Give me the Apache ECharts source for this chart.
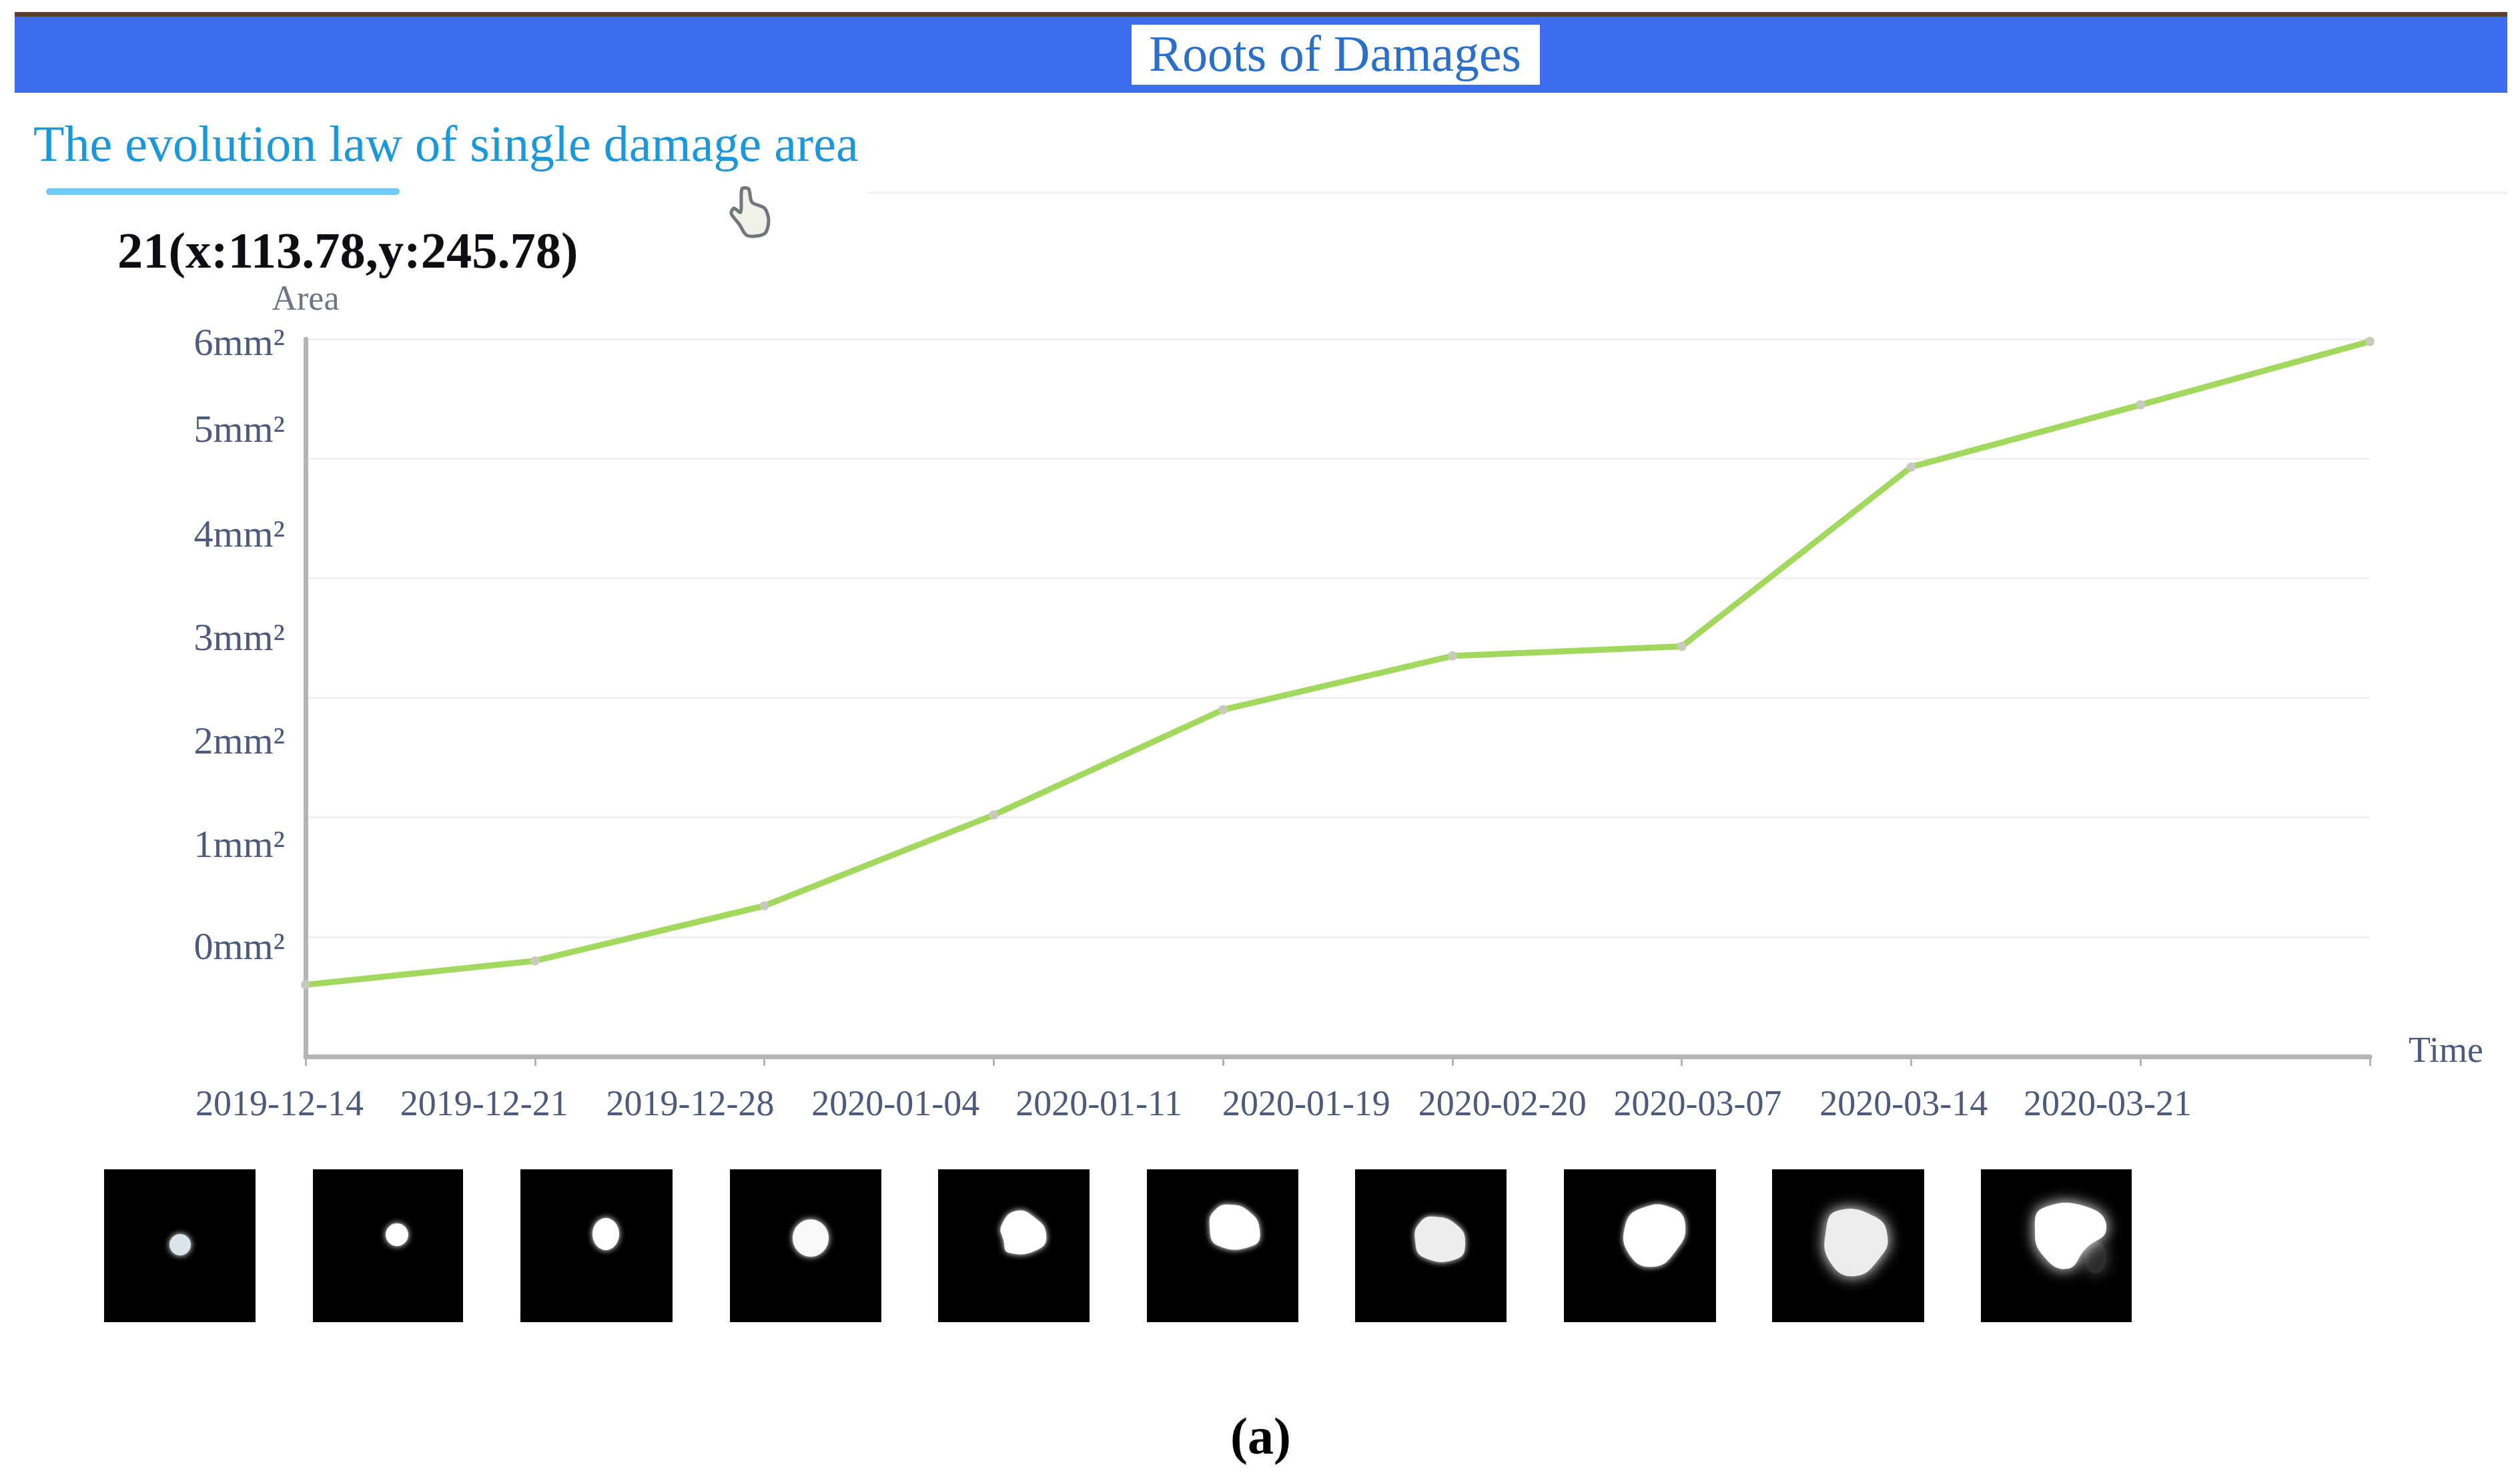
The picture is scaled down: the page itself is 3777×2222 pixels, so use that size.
<!DOCTYPE html>
<html>
<head>
<meta charset="utf-8">
<style>html,body{margin:0;padding:0;background:#fff}#c{width:3777px;height:2222px}</style>
<script src="https://cdn.jsdelivr.net/npm/echarts@6/dist/echarts.min.js"></script>
</head>
<body>
<div id="c"></div>
<script>
const dates = ['2019-12-14','2019-12-21','2019-12-28','2020-01-04','2020-01-11','2020-01-19','2020-02-20','2020-03-07','2020-03-14','2020-03-21'];
const areas = [0.60,0.80,1.26,2.02,2.90,3.35,3.43,4.93,5.45,5.98];
const yTicks = [0,1,2,3,4,5,6];

// the source picture has its tick labels displaced from their ticks
const xLabelShift = [39,76,111,147,186,219,269,320,355,393];
const yLabelShift = [161,135,111,87,63,40,-9];

const tiles = [[156,383],[469,694],[780,1008],[1094,1321],[1406,1633],[1719,1946],[2031,2258],[2344,2572],[2656,2884],[2969,3195]];
const dots = [[270,1865,16,16,'#dbe4ea'],[595,1850,17,17,'#ffffff'],[908,1849,20,24,'#ffffff'],[1215,1855,27,28,'#f8f8f8']];
const blobs = [
 [[1524,1814],[1553,1826],[1568,1849],[1558,1871],[1512,1877],[1504,1858],[1501,1836]],
 [[1844,1805],[1873,1816],[1888,1842],[1879,1866],[1825,1866],[1813,1836],[1821,1813]],
 [[2150,1823],[2184,1836],[2196,1862],[2184,1886],[2134,1884],[2121,1858],[2128,1832]],
 [[2461,1810],[2507,1810],[2526,1836],[2511,1875],[2478,1898],[2443,1881],[2436,1836]],
 [[2754,1814],[2810,1823],[2829,1852],[2818,1884],[2780,1912],[2743,1891],[2737,1842]],
 [[3062,1810],[3133,1810],[3157,1842],[3126,1871],[3099,1901],[3062,1881],[3050,1842]]
];
const blobFill = ['#ffffff','#ffffff','#eeeeec','#ffffff','#ececea','#ffffff'];
const blobBlur = [10,10,10,10,22,22];

const SERIF = '"Liberation Serif", serif';
const AXIS_TEXT = '#4d5a7c';
const AXIS_LINE = '#b2b4b6';

const xRich = {}; dates.forEach((d,i)=>{ xRich['s'+i] = {fontFamily:SERIF,fontSize:54,color:AXIS_TEXT,padding:[0,xLabelShift[i]*2,0,0]}; });
const yRich = {}; yTicks.forEach((v,i)=>{
  const s = yLabelShift[i];
  yRich['s'+i] = {fontFamily:SERIF,fontSize:58,color:AXIS_TEXT,padding: s>=0 ? [0,0,s*2,0] : [-s*2,0,0,0]};
});

const text = (x,y,t,size,color,extra) => ({type:'text',x,y,z:20,style:Object.assign({text:t,fontFamily:SERIF,fontSize:size,fill:color,verticalAlign:'middle'},extra||{})});

const graphic = [
  {type:'rect',z:10,shape:{x:22,y:18,width:3736,height:7},style:{fill:'#5e4030'}},
  {type:'rect',z:10,shape:{x:22,y:25,width:3736,height:114},style:{fill:'#3f6df0'}},
  {type:'rect',z:11,shape:{x:1696,y:37,width:612,height:90},style:{fill:'#ffffff'}},
  text(1722,86,'Roots of Damages',75.5,'#2a6fc9'),
  text(50,221,'The evolution law of single damage area',76,'#1b98dc'),
  {type:'rect',z:10,shape:{x:69,y:282,width:530,height:10,r:5},style:{fill:'#6dcbf8'}},
  {type:'line',z:5,shape:{x1:1300,y1:289,x2:3758,y2:289},style:{stroke:'#f2f2f4',lineWidth:3}},
  text(176,381,'21(x:113.78,y:245.78)',76.5,'#0d0d12',{fontWeight:'bold'}),
  {type:'polygon',z:12,shape:{points:[[1112,283],[1122,283],[1127,303],[1146,312],[1152,330],[1146,350],[1120,353],[1108,336],[1096,320],[1100,312],[1110,318]],smooth:0.3},style:{fill:'#f1f1ea',stroke:'#70777c',lineWidth:5}},
  text(1844,2158,'(a)',78,'#000000',{fontWeight:'bold'})
];
const top_ = 1752, bottom_ = 1981;
tiles.forEach(t=>graphic.push({type:'rect',z:10,shape:{x:t[0],y:top_,width:t[1]-t[0],height:bottom_-top_},style:{fill:'#000000'}}));
dots.forEach(d=>graphic.push({type:'ellipse',z:11,shape:{cx:d[0],cy:d[1],rx:d[2],ry:d[3]},style:{fill:d[4],shadowBlur:10,shadowColor:'#ffffff'}}));
graphic.push({type:'ellipse',z:11,shape:{cx:3141,cy:1884,rx:16,ry:24},style:{fill:'#2e2e2e',shadowBlur:24,shadowColor:'#555555'}});
blobs.forEach((b,i)=>graphic.push({type:'polygon',z:12,shape:{points:b,smooth:0.5},style:{fill:blobFill[i],shadowBlur:blobBlur[i],shadowColor:'#ffffff'}}));

const chart = echarts.init(document.getElementById('c'),null,{renderer:'canvas'});
chart.setOption({
  animation:false,
  backgroundColor:'#ffffff',
  grid:{left:458,right:225,top:508,bottom:639,containLabel:false},
  xAxis:{
    type:'category',data:dates,boundaryGap:false,
    name:'{t|Time}',nameLocation:'end',nameGap:58,
    nameTextStyle:{rich:{t:{fontFamily:SERIF,fontSize:54,color:AXIS_TEXT,padding:[0,0,12,0]}}},
    axisLine:{lineStyle:{color:AXIS_LINE,width:7}},
    axisTick:{show:true,alignWithLabel:true,length:14,lineStyle:{color:AXIS_LINE,width:3}},
    axisLabel:{interval:0,hideOverlap:false,margin:47,
      formatter:(v,i)=>'{s'+i+'|'+v+'}',rich:xRich},
    splitLine:{show:false}
  },
  yAxis:{
    type:'value',min:0,max:6,interval:1,
    name:'Area',nameLocation:'end',nameGap:32,
    nameTextStyle:{fontFamily:SERIF,fontSize:52,color:'#6e7484'},
    axisLine:{show:true,lineStyle:{color:AXIS_LINE,width:7}},
    axisTick:{show:false},
    axisLabel:{margin:31,hideOverlap:false,
      formatter:(v)=>'{s'+yTicks.indexOf(v)+'|'+v+'mm²}',rich:yRich},
    splitLine:{show:true,lineStyle:{color:'#f0f0f3',width:3}}
  },
  series:[{
    type:'line',data:areas,smooth:false,
    symbol:'circle',symbolSize:14,showSymbol:true,
    lineStyle:{color:'#a3d85e',width:9},
    itemStyle:{color:'#c6cbbb'},z:5
  }],
  graphic:{elements:graphic}
});
</script>
</body>
</html>
